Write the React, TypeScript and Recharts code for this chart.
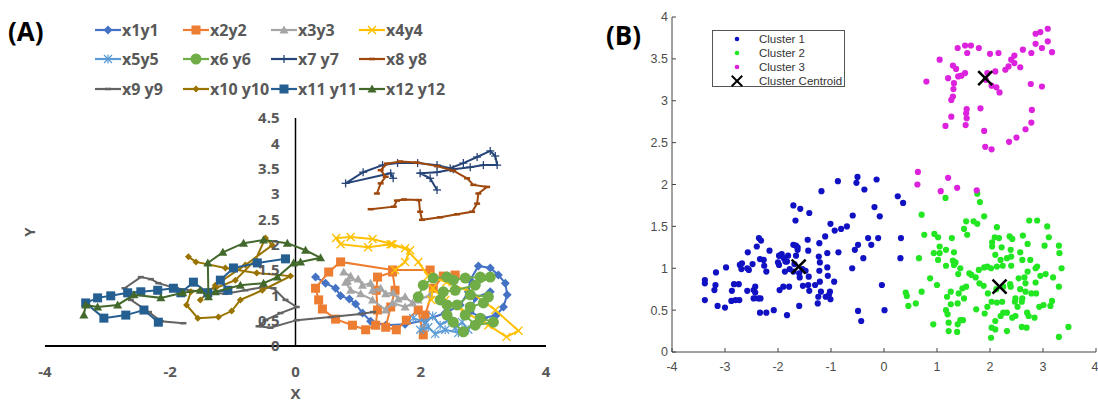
import React from 'react';
import { ScatterChart, Scatter, XAxis, YAxis, ReferenceLine, ReferenceDot } from 'recharts';

// ---------- panel A: trajectories (x, y) ----------
const x1y1 = [[0.32,1.36],[0.48,1.24],[0.64,1.14],[0.72,0.99],[0.86,0.93],[0.96,0.83],[1.07,0.65],[1.2,0.49],[1.44,0.41],[1.75,0.43],[2.07,0.51],[2.39,0.65],[2.63,0.81],[2.76,1.07],[2.79,1.3],[2.92,1.58],[3.11,1.54],[3.24,1.4],[3.35,1.24],[3.38,1.01],[3.32,0.77],[3.21,0.61],[3.0,0.55],[2.79,0.67],[2.87,0.95],[3.11,1.07]];
const x2y2 = [[2.15,1.5],[1.55,1.5],[0.72,1.66],[0.53,1.46],[0.32,1.14],[0.37,0.91],[0.43,0.73],[0.64,0.53],[0.91,0.41],[1.12,0.32],[1.28,0.41],[1.31,0.71],[1.29,1.1],[1.31,1.36],[1.55,1.46],[1.59,1.1],[1.52,0.77],[1.44,0.37],[1.61,0.32],[1.77,0.51],[1.96,0.71],[2.04,0.22],[2.07,0.61],[2.2,1.14],[2.36,1.38],[2.55,1.4]];
const x3y3 = [[0.77,1.46],[0.88,1.38],[0.83,1.28],[1.0,1.32],[1.07,1.2],[1.2,1.24],[1.23,1.1],[1.36,1.14],[1.44,1.03],[1.56,1.05],[1.64,0.93],[1.75,0.97],[1.87,0.85],[1.96,0.91],[2.15,1.01],[1.75,0.77],[1.55,0.85],[1.44,0.71],[1.23,0.91],[1.04,1.03],[0.88,1.1],[0.8,1.26]];
const x4y4 = [[1.59,1.5],[1.75,1.66],[1.83,1.89],[1.52,2.01],[1.16,1.95],[0.72,2.01],[0.65,2.13],[0.88,2.15],[1.23,2.11],[1.55,2.01],[1.75,1.93],[1.96,1.66],[2.12,1.38],[2.41,1.26],[2.79,1.07],[3.19,0.71],[3.56,0.3],[3.37,0.18],[3.08,0.41],[2.71,0.67],[2.39,0.91],[2.19,1.14],[2.17,0.91]];
const x5y5 = [[1.88,0.55],[2.07,0.47],[2.19,0.59],[2.31,0.41],[2.44,0.51],[2.55,0.36],[2.66,0.47],[2.76,0.32],[2.6,0.26],[2.39,0.32],[2.23,0.24],[2.12,0.37],[1.99,0.32]];
const x6y6 = [[1.96,0.97],[2.04,1.2],[2.2,1.34],[2.42,1.36],[2.52,1.3],[2.71,1.34],[2.95,1.36],[3.11,1.36],[2.87,1.2],[2.55,1.1],[2.36,1.07],[2.31,0.91],[2.42,0.81],[2.58,0.81],[2.79,1.01],[3.08,0.97],[3.0,0.85],[2.79,0.77],[2.71,0.61],[2.87,0.41],[3.16,0.47],[2.95,0.55],[2.68,0.28],[2.52,0.47],[2.42,0.61]];
const x7y7 = [[1.56,3.31],[1.52,3.41],[0.8,3.21],[1.08,3.43],[1.39,3.57],[1.63,3.61],[1.95,3.61],[2.26,3.57],[2.47,3.51],[2.68,3.61],[2.9,3.73],[3.11,3.85],[3.19,3.75],[3.22,3.57],[3.0,3.57],[2.79,3.53],[2.52,3.49],[2.26,3.43],[1.99,3.41],[2.15,3.31],[2.26,3.08]];
const x8y8 = [[1.3,3.01],[1.36,3.21],[1.44,3.34],[1.36,3.47],[1.46,3.6],[1.67,3.64],[1.94,3.62],[2.26,3.55],[2.52,3.46],[2.74,3.31],[2.84,3.18],[3.06,3.14],[2.92,3.01],[2.9,2.81],[2.82,2.65],[2.58,2.6],[2.31,2.54],[2.02,2.49],[1.99,2.65],[1.97,2.88],[1.73,2.89],[1.62,2.87],[1.57,2.75],[1.2,2.7]];
const x9y9 = [[-1.79,0.45],[-2.15,0.49],[-2.34,0.67],[-2.63,0.91],[-2.73,1.14],[-2.47,1.36],[-2.31,1.32],[-2.19,1.24],[-1.91,1.14],[-1.52,1.07],[-1.12,1.03],[-0.8,1.1],[-0.53,1.16],[-0.35,1.14],[-0.16,0.91],[0.02,0.77],[-0.24,0.65],[-0.48,0.51],[-0.59,0.39],[-0.4,0.36],[0.02,0.51],[0.56,0.57],[1.04,0.63],[1.24,0.67]];
const x10y10 = [[-1.71,1.76],[-1.59,1.66],[-1.12,1.54],[-0.62,1.44],[-0.08,1.38],[-0.53,1.1],[-0.88,0.91],[-1.02,0.69],[-1.23,0.57],[-1.56,0.55],[-1.74,0.81],[-1.67,1.07],[-1.52,1.1],[-1.28,1.14],[-0.96,1.3],[-0.64,1.7],[-0.48,2.13],[-0.37,1.99],[-0.8,1.6],[-1.28,1.2],[-1.52,0.91]];
const x11y11 = [[-0.16,1.72],[-0.61,1.64],[-0.99,1.54],[-1.2,1.3],[-1.08,1.1],[-1.4,1.05],[-1.63,1.26],[-1.83,1.05],[-1.95,1.14],[-2.2,1.1],[-2.47,1.07],[-2.68,1.05],[-2.95,0.99],[-3.16,0.95],[-3.35,0.85],[-3.06,0.55],[-2.71,0.61],[-2.42,0.71],[-2.19,0.47]];
const x12y12 = [[-3.38,0.61],[-3.35,0.81],[-3.16,0.77],[-2.84,0.81],[-2.58,1.01],[-2.15,0.95],[-1.8,1.05],[-1.52,1.1],[-1.39,0.97],[-1.4,1.64],[-1.16,1.85],[-0.83,2.03],[-0.51,2.09],[-0.13,2.03],[0.16,1.89],[0.4,1.74],[0.08,1.66],[-0.03,1.64],[-0.29,1.36],[-0.51,1.24],[-0.88,1.2],[-1.28,1.07]];

const xTicksA = [-4, -2, 0, 2, 4];
const yTicksA = [0, 0.5, 1, 1.5, 2, 2.5, 3, 3.5, 4, 4.5];

// ---------- panel B: clusters ----------
const cluster1 = [[-0.5,2.09],[-0.52,2.02],[-0.37,1.94],[-0.14,2.06],[-0.87,2.04],[-1.18,1.92],[-1.71,1.75],[-1.58,1.71],[-1.41,1.66],[-1.67,1.57],[-0.18,1.73],[-0.08,1.62],[-0.59,1.63],[-1.01,1.53],[-0.93,1.45],[-0.81,1.47],[-0.7,1.5],[-1.11,1.38],[-1.22,1.3],[-1.44,1.34],[-0.3,1.36],[-0.11,1.36],[-0.49,1.28],[-0.55,1.22],[-0.24,1.28],[-0.39,1.12],[-0.6,1.0],[-0.86,1.19],[-1.07,1.18],[-1.23,1.14],[-1.43,1.21],[-1.66,1.27],[-1.63,1.25],[-1.71,1.28],[-1.63,1.22],[-1.66,1.15],[-1.81,1.15],[-1.93,1.17],[-1.98,1.15],[-1.89,1.12],[-1.98,1.04],[-1.86,1.08],[-1.69,1.05],[-1.54,0.99],[-1.48,0.97],[-1.59,0.89],[-1.78,0.99],[-1.87,0.96],[-1.71,0.96],[-1.6,0.94],[-1.42,0.9],[-1.21,1.07],[-1.07,1.01],[-1.06,0.91],[-1.22,0.97],[-1.21,0.84],[-1.41,0.73],[-1.3,0.8],[-1.19,0.72],[-1.24,0.66],[-1.79,0.78],[-1.53,0.79],[-1.02,0.72],[-1.01,0.63],[-0.94,0.84],[-1.04,0.68],[-1.1,0.66],[-1.25,0.58],[-0.04,0.8],[0.01,0.5],[-0.49,0.49],[-0.43,0.37],[-1.6,0.55],[-1.83,0.44],[-2.08,0.5],[-2.22,0.47],[-2.34,0.47],[-2.26,1.03],[-2.22,0.96],[-2.34,1.11],[-2.36,1.36],[-2.32,1.33],[-2.4,1.26],[-2.57,1.19],[-2.48,1.05],[-2.55,0.98],[-2.68,1.06],[-2.69,0.99],[-2.72,1.04],[-2.58,1.0],[-2.16,1.21],[-2.43,0.78],[-2.46,0.74],[-2.43,0.71],[-2.37,0.64],[-2.46,0.64],[-2.33,0.64],[-2.58,0.73],[-2.74,0.81],[-2.83,0.81],[-2.87,0.73],[-2.8,0.62],[-2.88,0.61],[-2.73,0.62],[-2.98,1.01],[-3.17,0.95],[-3.18,0.8],[-3.2,0.74],[-3.38,0.86],[-3.38,0.82],[-3.38,0.62],[-3.14,0.55],[-3.0,0.53],[-1.97,0.74],[-1.9,0.78],[-2.0,1.07],[-1.83,1.08],[-1.97,1.15],[-2.27,1.1],[-1.43,0.8],[0.26,1.86],[0.36,1.78],[0.32,1.36],[0.31,1.12]];
const cluster2 = [[1.16,1.84],[1.81,1.79],[1.76,1.89],[1.89,1.62],[0.71,1.64],[0.76,1.4],[0.95,1.41],[1.02,1.37],[1.28,1.36],[1.55,1.56],[1.51,1.47],[1.57,1.4],[1.69,1.56],[1.76,1.53],[2.13,1.49],[2.17,1.36],[2.37,1.38],[2.42,1.35],[2.62,1.39],[2.74,1.57],[2.89,1.57],[3.08,1.5],[3.11,1.37],[2.71,1.29],[2.57,1.19],[3.03,1.27],[3.3,1.27],[3.31,1.18],[3.35,1.0],[3.19,0.89],[3.3,0.78],[3.17,0.61],[3.14,0.55],[3.48,0.3],[3.3,0.18],[3.01,0.56],[2.86,1.0],[2.95,0.91],[3.05,0.93],[2.71,0.96],[2.67,0.82],[2.87,0.7],[2.78,0.7],[2.67,0.72],[2.57,0.75],[2.39,0.78],[2.61,0.64],[2.47,0.6],[2.6,0.6],[2.7,0.47],[2.69,0.29],[2.6,0.3],[2.48,0.43],[2.42,0.41],[2.32,0.47],[2.32,0.25],[2.2,0.43],[2.1,0.37],[2.03,0.29],[2.02,0.17],[2.13,0.59],[2.23,0.6],[2.03,0.6],[1.95,0.54],[1.9,0.46],[1.74,0.51],[1.96,0.7],[1.88,0.79],[1.8,0.82],[1.73,0.89],[1.79,0.98],[1.89,1.01],[1.95,1.02],[2.13,1.02],[2.24,1.03],[2.4,1.03],[2.32,1.12],[2.2,1.1],[2.1,1.16],[2.22,1.25],[2.04,1.26],[2.02,1.0],[1.61,0.94],[1.65,0.92],[1.4,0.93],[1.44,1.0],[1.35,1.07],[1.3,1.09],[1.32,1.04],[1.17,1.03],[1.02,1.1],[0.94,1.18],[1.05,1.18],[1.17,1.22],[1.32,1.19],[0.66,1.12],[0.87,0.88],[1.0,0.8],[0.71,0.72],[0.41,0.71],[0.43,0.67],[0.6,0.58],[0.46,0.55],[0.93,0.33],[1.22,0.35],[1.2,0.45],[1.17,0.5],[1.26,0.57],[1.39,0.58],[1.51,0.64],[1.41,0.7],[1.55,0.78],[1.48,0.76],[1.26,0.72],[1.19,0.66],[1.49,0.38],[1.39,0.33],[1.44,0.38],[1.38,0.24],[2.1,0.27],[2.25,0.47],[2.38,0.81],[2.48,0.64],[2.84,0.41],[2.86,0.83],[2.54,0.88],[2.65,0.89],[2.39,1.22],[2.04,1.31],[2.09,1.37],[2.61,1.1],[2.4,1.14],[2.76,1.1],[2.89,1.02],[2.12,0.75],[2.25,0.78],[2.93,0.54],[2.73,0.43],[2.52,0.54],[1.22,0.25],[1.05,1.26]];
const cluster3 = [[3.09,3.86],[2.95,3.82],[2.86,3.8],[2.86,3.68],[3.09,3.71],[2.98,3.63],[3.17,3.58],[2.78,3.57],[2.62,3.61],[2.46,3.54],[2.4,3.49],[2.46,3.45],[2.57,3.4],[2.35,3.41],[2.29,3.37],[2.16,3.57],[2.0,3.56],[2.1,3.35],[1.95,3.33],[1.92,3.25],[2.03,3.18],[2.12,3.16],[2.18,3.1],[1.79,3.63],[1.64,3.66],[1.53,3.66],[1.39,3.63],[1.57,3.57],[1.05,3.49],[1.3,3.42],[1.36,3.38],[1.53,3.33],[1.46,3.3],[1.4,3.29],[1.21,3.27],[0.8,3.23],[1.32,3.21],[1.31,3.14],[1.3,3.05],[1.27,3.01],[1.56,2.9],[1.55,2.85],[1.56,2.79],[1.54,2.71],[1.27,2.81],[1.16,2.7],[1.82,2.91],[1.89,2.64],[1.91,2.45],[2.03,2.42],[2.36,2.51],[2.5,2.56],[2.67,2.66],[2.78,2.74],[2.79,2.89],[2.77,3.2],[2.98,3.17],[0.64,2.15],[0.63,2.0],[1.21,2.08],[1.07,1.92],[1.38,1.96],[1.75,1.93]];
const centroids = [[-1.61,1.02],[2.18,0.78],[1.91,3.27]];

const xTicksB = [-4, -3, -2, -1, 0, 1, 2, 3, 4];
const yTicksB = [0, 0.5, 1, 1.5, 2, 2.5, 3, 3.5, 4];

const toPts = (arr: number[][]) => arr.map(([x, y]) => ({ x, y }));

const seriesA = [
  { name: 'x1y1', color: '#4472C4', marker: 'diamond', data: x1y1 },
  { name: 'x2y2', color: '#ED7D31', marker: 'square', data: x2y2 },
  { name: 'x3y3', color: '#A5A5A5', marker: 'triangle', data: x3y3 },
  { name: 'x4y4', color: '#FFC000', marker: 'cross', data: x4y4 },
  { name: 'x5y5', color: '#5B9BD5', marker: 'star', data: x5y5 },
  { name: 'x6 y6', color: '#70AD47', marker: 'circle', data: x6y6 },
  { name: 'x7 y7', color: '#264478', marker: 'plus', data: x7y7 },
  { name: 'x8 y8', color: '#9E480E', marker: 'dash', data: x8y8 },
  { name: 'x9 y9', color: '#636363', marker: 'dash', data: x9y9 },
  { name: 'x10 y10', color: '#997300', marker: 'smalldiamond', data: x10y10 },
  { name: 'x11 y11', color: '#255E91', marker: 'square', data: x11y11 },
  { name: 'x12 y12', color: '#43682B', marker: 'triangle', data: x12y12 },
];

const Marker = ({ cx, cy, kind, color }: any) => {
  if (cx == null || cy == null) return <g />;
  switch (kind) {
    case 'diamond':
      return <path d={`M${cx},${cy - 4.5}L${cx + 4.5},${cy}L${cx},${cy + 4.5}L${cx - 4.5},${cy}Z`} fill={color} />;
    case 'smalldiamond':
      return <path d={`M${cx},${cy - 3.5}L${cx + 3.5},${cy}L${cx},${cy + 3.5}L${cx - 3.5},${cy}Z`} fill={color} />;
    case 'square':
      return <rect x={cx - 4.5} y={cy - 4.5} width={9} height={9} fill={color} />;
    case 'triangle':
      return <path d={`M${cx},${cy - 4.5}L${cx + 4.5},${cy + 3.5}L${cx - 4.5},${cy + 3.5}Z`} fill={color} />;
    case 'circle':
      return <circle cx={cx} cy={cy} r={5.5} fill={color} />;
    case 'cross':
      return (
        <g stroke={color} strokeWidth={1.4}>
          <line x1={cx - 4} y1={cy - 4} x2={cx + 4} y2={cy + 4} />
          <line x1={cx - 4} y1={cy + 4} x2={cx + 4} y2={cy - 4} />
        </g>
      );
    case 'star':
      return (
        <g stroke={color} strokeWidth={1.2}>
          <line x1={cx - 4} y1={cy - 4} x2={cx + 4} y2={cy + 4} />
          <line x1={cx - 4} y1={cy + 4} x2={cx + 4} y2={cy - 4} />
          <line x1={cx} y1={cy - 4.5} x2={cx} y2={cy + 4.5} />
        </g>
      );
    case 'plus':
      return (
        <g stroke={color} strokeWidth={1.3}>
          <line x1={cx - 4} y1={cy} x2={cx + 4} y2={cy} />
          <line x1={cx} y1={cy - 4} x2={cx} y2={cy + 4} />
        </g>
      );
    case 'dash':
      return <line x1={cx - 3} y1={cy} x2={cx + 3} y2={cy} stroke={color} strokeWidth={2.5} />;
    case 'dot':
      return <circle cx={cx} cy={cy} r={3.1} fill={color} />;
    case 'bigx':
      return (
        <g stroke="#000" strokeWidth={2.6}>
          <line x1={cx - 7} y1={cy - 7} x2={cx + 7} y2={cy + 7} />
          <line x1={cx - 7} y1={cy + 7} x2={cx + 7} y2={cy - 7} />
        </g>
      );
    default:
      return <g />;
  }
};

const fontA = "'Open Sans', sans-serif";
const fontB = "'Liberation Sans', Arial, sans-serif";
const greyA = '#595959';

const LegendA = () => (
  <div style={{ position: 'absolute', left: 95, top: 15, width: 400, fontFamily: fontA }}>
    {[0, 1, 2].map((row) => (
      <div key={row} style={{ display: 'flex', height: 29.5, alignItems: 'center' }}>
        {seriesA.slice(row * 4, row * 4 + 4).map((s) => (
          <div key={s.name} style={{ width: 88, display: 'flex', alignItems: 'center' }}>
            <svg width={26} height={14} style={{ flex: 'none' }}>
              <line x1={0} y1={7} x2={26} y2={7} stroke={s.color} strokeWidth={2.2} />
              <Marker cx={13} cy={7} kind={s.marker} color={s.color} />
            </svg>
            <span style={{ marginLeft: 1, fontSize: 16, fontWeight: 700, color: greyA, whiteSpace: 'nowrap' }}>{s.name}</span>
          </div>
        ))}
      </div>
    ))}
  </div>
);

const clustersB = [
  { name: 'Cluster 1', color: '#1111C4', marker: 'dot', data: cluster1 },
  { name: 'Cluster 2', color: '#22E622', marker: 'dot', data: cluster2 },
  { name: 'Cluster 3', color: '#DD22DD', marker: 'dot', data: cluster3 },
  { name: 'Cluster Centroid', color: '#000', marker: 'bigx', data: centroids },
];

const LegendB = () => (
  <div
    style={{
      position: 'absolute', left: 712, top: 30, width: 133, height: 57,
      border: '1px solid #555', background: '#fff', fontFamily: fontB, fontSize: 11.5, color: '#333',
      paddingTop: 1, boxSizing: 'border-box',
    }}
  >
    {clustersB.map((c) => (
      <div key={c.name} style={{ display: 'flex', alignItems: 'center', height: 14 }}>
        <svg width={46} height={14} style={{ flex: 'none' }}>
          <g transform="translate(24,7) scale(0.75) translate(-24,-7)">
            <Marker cx={24} cy={7} kind={c.marker} color={c.color} />
          </g>
        </svg>
        <span style={{ whiteSpace: 'nowrap' }}>{c.name}</span>
      </div>
    ))}
  </div>
);

export default function App() {
  return (
    <div style={{ position: 'absolute', left: 0, top: 0, width: 1098, height: 404, background: '#fff', overflow: 'hidden' }}>
      {/* panel A */}
      <div style={{ position: 'absolute', left: 0, top: 0 }}>
        <ScatterChart width={560} height={404} margin={{ top: 118, right: 14, left: 45, bottom: 0 }}>
          <XAxis
            type="number"
            dataKey="x"
            domain={[-4, 4]}
            ticks={xTicksA}
            height={58}
            tickLine={false}
            tickMargin={14}
            axisLine={{ stroke: '#000', strokeWidth: 2 }}
            tick={{ fill: greyA, fontSize: 15, fontWeight: 700, fontFamily: fontA }}
            label={{ value: 'X', position: 'insideBottom', offset: 5, fill: greyA, fontSize: 15, fontWeight: 700, fontFamily: fontA }}
          />
          <YAxis type="number" dataKey="y" domain={[0, 4.5]} hide />
          <ReferenceLine x={0} stroke="#000" strokeWidth={1.5} />
          {yTicksA.map((v) => (
            <ReferenceDot
              key={v}
              x={0}
              y={v}
              r={0}
              fill="none"
              stroke="none"
              label={{ value: String(v), position: 'left', offset: 16, fill: greyA, fontSize: 15, fontWeight: 700, fontFamily: fontA }}
            />
          ))}
          {seriesA.map((s) => (
            <Scatter
              key={s.name}
              name={s.name}
              data={toPts(s.data)}
              isAnimationActive={false}
              line={{ stroke: s.color, strokeWidth: 2 }}
              shape={(p: any) => <Marker cx={p.cx} cy={p.cy} kind={s.marker} color={s.color} />}
            />
          ))}
        </ScatterChart>
        <LegendA />
        <div style={{ position: 'absolute', left: 8, top: 13, fontFamily: fontA, fontSize: 26, fontWeight: 700, color: '#000' }}>(A)</div>
        <div
          style={{
            position: 'absolute', left: 24, top: 222, fontFamily: fontA, fontSize: 15, fontWeight: 700,
            color: greyA, transform: 'rotate(-90deg)',
          }}
        >
          Y
        </div>
      </div>

      {/* panel B */}
      <div style={{ position: 'absolute', left: 600, top: 0 }}>
        <ScatterChart width={498} height={404} margin={{ top: 17, right: 2, left: 32, bottom: 22 }}>
          <XAxis
            type="number"
            dataKey="x"
            domain={[-4, 4]}
            ticks={xTicksB}
            height={30}
            tickSize={-4}
            tickMargin={14}
            stroke="#444"
            tick={{ fill: '#4d4d4d', fontSize: 12.5, fontFamily: fontB }}
          />
          <XAxis
            xAxisId="top"
            orientation="top"
            type="number"
            domain={[-4, 4]}
            ticks={xTicksB}
            height={0}
            mirror
            tickSize={4}
            stroke="#444"
            tick={false}
          />
          <YAxis
            type="number"
            dataKey="y"
            domain={[0, 4]}
            ticks={yTicksB}
            width={40}
            tickSize={-4}
            tickMargin={8}
            stroke="#444"
            tick={{ fill: '#4d4d4d', fontSize: 12.5, fontFamily: fontB }}
          />
          <YAxis
            yAxisId="right"
            orientation="right"
            type="number"
            domain={[0, 4]}
            ticks={yTicksB}
            width={0}
            mirror
            tickSize={4}
            stroke="#444"
            tick={false}
          />
          {clustersB.map((c) => (
            <Scatter
              key={c.name}
              name={c.name}
              data={toPts(c.data)}
              isAnimationActive={false}
              shape={(p: any) => <Marker cx={p.cx} cy={p.cy} kind={c.marker} color={c.color} />}
            />
          ))}
        </ScatterChart>
      </div>
      <LegendB />
      <div style={{ position: 'absolute', left: 606, top: 17, fontFamily: fontA, fontSize: 26, fontWeight: 700, color: '#000' }}>(B)</div>
    </div>
  );
}
